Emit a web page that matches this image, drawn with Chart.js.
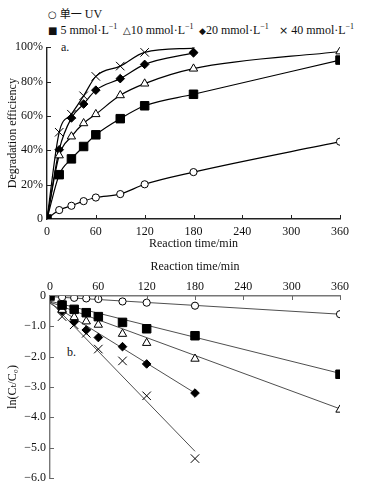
<!DOCTYPE html>
<html>
<head>
<meta charset="utf-8">
<script src="https://cdn.jsdelivr.net/npm/chart.js@4.4.1/dist/chart.umd.min.js"></script>
<style>
  body { margin: 0; background: #fff; width: 386px; height: 495px; position: relative; overflow: hidden;
         font-family: "Liberation Serif", "DejaVu Serif", "Noto Sans CJK SC", serif; color: #111; }
  .lg { position: absolute; font-size: 12px; line-height: 14px; white-space: nowrap; }
  .lg sup { font-size: 8px; vertical-align: 5px; line-height: 0; }
  .cjk { font-family: "Noto Sans CJK SC", sans-serif; font-size: 11px; }
  .sym { display: inline-block; font-family: "DejaVu Sans", sans-serif; }
  #c1 { position: absolute; left: 0; top: 36px; }
  #c2 { position: absolute; left: 0; top: 256px; }
  .tag { position: absolute; font-size: 12px; }
</style>
</head>
<body>
<div class="lg" style="left:48px; top:6px;"><span class="sym" style="font-size:10px">○</span> <span class="cjk">单一</span> UV</div>
<div class="lg" style="left:48px; top:23px;"><span class="sym" style="font-size:10px">■</span> 5 mmol·L<sup>−1</sup></div>
<div class="lg" style="left:123px; top:23px;"><span class="sym" style="font-size:10px">△</span>10 mmol·L<sup>−1</sup></div>
<div class="lg" style="left:199px; top:23px;"><span class="sym" style="font-size:9px">◆</span>20 mmol·L<sup>−1</sup></div>
<div class="lg" style="left:279px; top:23px;"><span class="sym" style="font-size:11px">×</span> 40 mmol·L<sup>−1</sup></div>
<div class="tag" style="left:61px; top:40px;">a.</div>
<div class="tag" style="left:67px; top:345px;">b.</div>
<canvas id="c1" width="386" height="222"></canvas>
<canvas id="c2" width="386" height="239"></canvas>
<script>
// reaction times (min)
const times = [0, 15, 30, 45, 60, 90, 120, 180, 360];

// a. degradation efficiency (%)
const effUV = [0, 5.2, 7.7, 10.4, 12.5, 14.5, 20.2, 27.3, 45];
const eff5 = [0, 25.8, 35, 42.2, 49, 58.4, 65.9, 72.6, 92.5];
const eff10 = [0, 37, 48, 55.7, 61, 72, 78.8, 87.5, 97.5];
const eff20 = [0, 40.3, 58.8, 66.9, 75, 81.7, 90, 96.7];
const eff40 = [0, 50.5, 61, 71.7, 83, 89, 97, 99.5];

// b. ln(Ct/C0)
const lnUV = [0, -0.04, -0.06, -0.08, -0.1, -0.18, -0.22, -0.32, -0.6];
const ln5 = [0, -0.3, -0.44, -0.55, -0.68, -0.87, -1.08, -1.31, -2.58];
const ln10 = [0, -0.46, -0.7, -0.84, -0.95, -1.25, -1.55, -2.07, -3.75];
const ln20 = [0, -0.5, -0.85, -1.12, -1.37, -1.67, -2.24, -3.2];
const ln40 = [0, -0.68, -0.95, -1.23, -1.75, -2.14, -3.29, -5.36];

// fitted straight lines in b.: [x0, y0, x1, y1]
const fitUV = [0, -0.02, 360, -0.6];
const fit5 = [0, -0.17, 360, -2.55];
const fit10 = [0, -0.2, 360, -3.72];
const fit20 = [0, -0.24, 180, -3.2];
const fit40 = [0, -0.18, 180, -5.12];

const xTicks = [0, 60, 120, 180, 240, 300, 360];

const font = { family: '"Liberation Serif", "DejaVu Serif", serif', size: 12 };

function pts(ys) { return ys.map((y, i) => ({ x: times[i], y: y })); }
function fitPts(f) { return [{ x: f[0], y: f[1] }, { x: f[2], y: f[3] }]; }

// marker styles per series
const mk = [
  { pointStyle: 'circle', pointRadius: 3.6, pointBackgroundColor: '#fff' },
  { pointStyle: 'rect', pointRadius: 6, pointBackgroundColor: '#000' },
  { pointStyle: 'triangle', pointRadius: 4.8, pointBackgroundColor: '#fff' },
  { pointStyle: 'rectRot', pointRadius: 4.3, pointBackgroundColor: '#000' },
  { pointStyle: 'crossRot', pointRadius: 6, pointBackgroundColor: '#000' }
];

function markerSet(data, i, extra) {
  return Object.assign({
    data: data,
    borderColor: '#000',
    pointBorderColor: '#000',
    pointBorderWidth: 1,
    pointHoverRadius: mk[i].pointRadius
  }, mk[i], extra);
}

// inward tick marks
const innerTicks = {
  id: 'innerTicks',
  afterDraw(chart, args, opts) {
    const { ctx, scales: { x, y } } = chart;
    ctx.save();
    ctx.strokeStyle = opts.color;
    ctx.lineWidth = 1;
    const xEdge = opts.top ? y.getPixelForValue(y.max) : y.getPixelForValue(y.min);
    const dir = opts.top ? 1 : -1;
    xTicks.slice(1).forEach(v => {
      const px = Math.round(x.getPixelForValue(v)) + 0.5;
      ctx.beginPath(); ctx.moveTo(px, xEdge); ctx.lineTo(px, xEdge + dir * 4); ctx.stroke();
    });
    y.ticks.forEach(t => {
      if (t.value === (opts.top ? 0 : y.min)) return;
      const py = Math.round(y.getPixelForValue(t.value)) + 0.5;
      ctx.beginPath(); ctx.moveTo(x.left, py); ctx.lineTo(x.left + 4, py); ctx.stroke();
    });
    ctx.restore();
  }
};

Chart.defaults.animation = false;
Chart.defaults.color = '#111';

const top1 = new Chart(document.getElementById('c1'), {
  type: 'line',
  data: {
    datasets: [
      markerSet(pts(eff5), 1, {}),
      markerSet(pts(effUV), 0, {}),
      markerSet(pts(eff10), 2, {}),
      markerSet(pts(eff20), 3, {}),
      markerSet(pts(eff40), 4, {})
    ].map(d => Object.assign(d, { borderWidth: 1.2, cubicInterpolationMode: 'monotone' }))
  },
  options: {
    responsive: false,
    layout: { padding: { top: 10, right: 46, left: 0, bottom: 0 } },
    plugins: { legend: { display: false }, tooltip: { enabled: false }, innerTicks: { color: '#222', top: false } },
    scales: {
      x: {
        type: 'linear', min: 0, max: 360,
        afterFit(s) { s.height = 39; },
        afterBuildTicks(s) { s.ticks = xTicks.map(v => ({ value: v })); },
        grid: { display: true, drawOnChartArea: false, drawTicks: false },
        border: { color: '#222', width: 1.4 },
        ticks: { font: font, padding: 6, maxRotation: 0, color: '#111' },
        title: { display: true, text: 'Reaction time/min', font: font, padding: { top: 0, bottom: 7 }, color: '#111' }
      },
      y: {
        min: 0, max: 100,
        afterFit(s) { s.width = 47; },
        grid: { display: true, drawOnChartArea: false, drawTicks: false },
        border: { color: '#222', width: 1.4 },
        ticks: { stepSize: 20, font: font, padding: 4, color: '#111',
          callback: v => v === 0 ? '0' : v + '%' },
        title: { display: true, text: 'Degradation efficiency', font: font, padding: { top: 6, bottom: 0 }, color: '#111' }
      }
    }
  },
  plugins: [innerTicks]
});

const fitStyle = { borderColor: '#222', borderWidth: 0.8, pointRadius: 0, pointHoverRadius: 0, showLine: true };

const bottom1 = new Chart(document.getElementById('c2'), {
  type: 'line',
  data: {
    datasets: [
      markerSet(pts(ln5), 1, { showLine: false }),
      markerSet(pts(lnUV), 0, { showLine: false }),
      markerSet(pts(ln10), 2, { showLine: false }),
      markerSet(pts(ln20), 3, { showLine: false }),
      markerSet(pts(ln40), 4, { showLine: false }),
      Object.assign({ data: fitPts(fitUV) }, fitStyle),
      Object.assign({ data: fitPts(fit5) }, fitStyle),
      Object.assign({ data: fitPts(fit10) }, fitStyle),
      Object.assign({ data: fitPts(fit20) }, fitStyle),
      Object.assign({ data: fitPts(fit40) }, fitStyle)
    ]
  },
  options: {
    responsive: false,
    layout: { padding: { top: 0, right: 46, left: 0, bottom: 17 } },
    plugins: { legend: { display: false }, tooltip: { enabled: false }, innerTicks: { color: '#666', top: true } },
    scales: {
      x: {
        type: 'linear', position: 'top', min: 0, max: 360,
        afterFit(s) { s.height = 40; },
        afterBuildTicks(s) { s.ticks = xTicks.map(v => ({ value: v })); },
        grid: { display: true, drawOnChartArea: false, drawTicks: false },
        border: { color: '#777', width: 1.4 },
        ticks: { font: font, padding: 2, maxRotation: 0, color: '#111' },
        title: { display: true, text: 'Reaction time/min', font: font, padding: { top: 4, bottom: 0 }, color: '#111' }
      },
      y: {
        min: -6, max: 0,
        afterFit(s) { s.width = 50; },
        grid: { display: true, drawOnChartArea: false, drawTicks: false },
        border: { color: '#777', width: 1.4 },
        ticks: { stepSize: 1, font: font, padding: 4, color: '#111',
          callback: v => v === 0 ? '0' : '−' + Math.abs(v).toFixed(1) },
        title: { display: true, text: 'ln(Cₜ/C₀)', font: font, padding: { top: 6, bottom: 0 }, color: '#111' }
      }
    }
  },
  plugins: [innerTicks]
});
</script>
</body>
</html>
